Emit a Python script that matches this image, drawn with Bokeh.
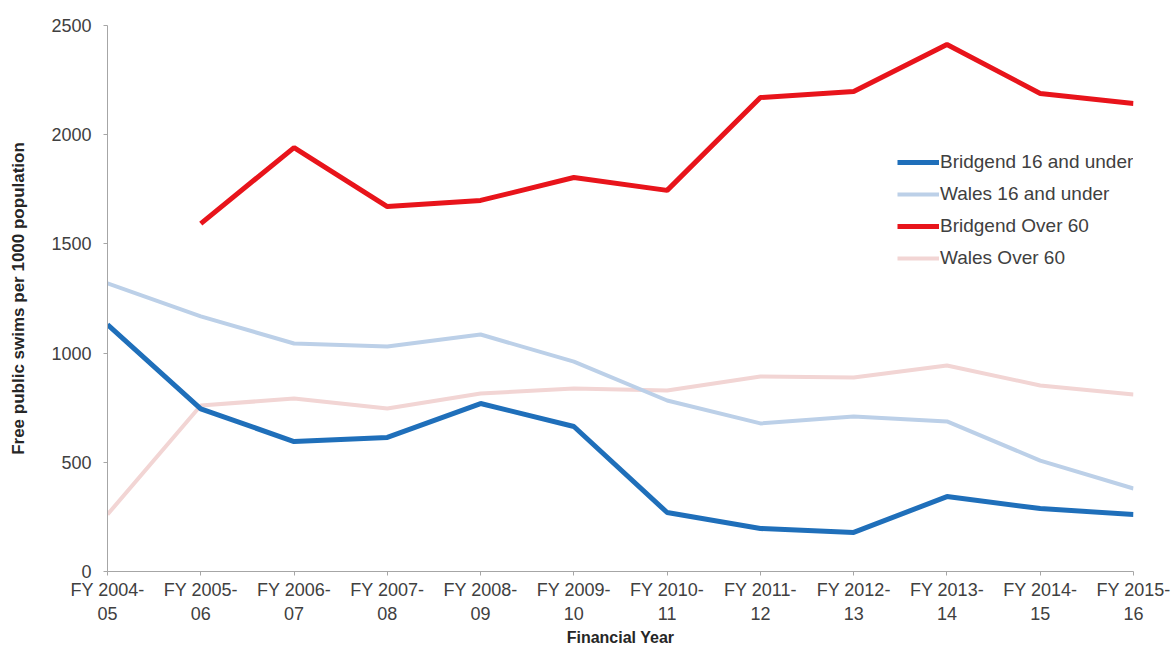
from bokeh.plotting import figure
from bokeh.models import Range1d, FixedTicker, Legend, LegendItem
from bokeh.embed import file_html
from bokeh.resources import INLINE

years = ["FY 2004-\n05", "FY 2005-\n06", "FY 2006-\n07", "FY 2007-\n08", "FY 2008-\n09",
         "FY 2009-\n10", "FY 2010-\n11", "FY 2011-\n12", "FY 2012-\n13", "FY 2013-\n14",
         "FY 2014-\n15", "FY 2015-\n16"]
bridgend_16 = [1130, 745, 595, 614, 769, 664, 270, 197, 179, 343, 288, 261]
wales_16 = [1319, 1168, 1044, 1030, 1085, 961, 783, 678, 710, 687, 508, 380]
bridgend_60 = [None, 1593, 1941, 1671, 1699, 1804, 1745, 2170, 2198, 2413, 2189, 2143]
wales_60 = [261, 760, 792, 746, 815, 838, 829, 893, 888, 943, 852, 810]
y_ticks = [0, 500, 1000, 1500, 2000, 2500]

FONT = "Liberation Sans"
xs = list(range(len(years)))

p = figure(width=1175, height=648, output_backend="svg", toolbar_location=None,
           x_range=Range1d(0, len(years) - 1), y_range=Range1d(0, 2500),
           min_border_left=107, min_border_right=42, min_border_top=25, min_border_bottom=77)
p.outline_line_color = None
p.grid.grid_line_color = None
p.background_fill_color = "white"

def xy(vals):
    px, py = [], []
    for i, v in zip(xs, vals):
        if v is not None:
            px.append(i)
            py.append(v)
    return px, py

x1, y1 = xy(wales_60)
r_w60 = p.line(x1, y1, line_color="#F2D5D4", line_width=4)
x2, y2 = xy(wales_16)
r_w16 = p.line(x2, y2, line_color="#BCD0E8", line_width=4)
x3, y3 = xy(bridgend_60)
r_b60 = p.line(x3, y3, line_color="#E8141B", line_width=5)
x4, y4 = xy(bridgend_16)
r_b16 = p.line(x4, y4, line_color="#1F6FBA", line_width=5)

p.xaxis.ticker = FixedTicker(ticks=xs)
p.xaxis.major_label_overrides = {i: s for i, s in zip(xs, years)}
p.yaxis.ticker = FixedTicker(ticks=y_ticks)

for ax in (p.xaxis[0], p.yaxis[0]):
    ax.axis_line_color = "#A6A6A6"
    ax.major_tick_line_color = "#A6A6A6"
    ax.minor_tick_line_color = None
    ax.major_tick_out = 4
    ax.major_tick_in = 0
    ax.major_label_text_font = FONT
    ax.major_label_text_font_size = "18px"
    ax.major_label_text_color = "#404040"
    ax.axis_label_text_font = FONT
    ax.axis_label_text_font_style = "bold"
    ax.axis_label_text_color = "#262626"

p.xaxis.axis_label = "Financial Year"
p.xaxis.axis_label_text_font_size = "16px"
p.xaxis.major_label_standoff = 4
p.xaxis.axis_label_standoff = 2
p.yaxis.axis_label = "Free public swims per 1000 population"
p.yaxis.axis_label_text_font_size = "17px"
p.yaxis.major_label_standoff = 12
p.yaxis.axis_label_standoff = 20

legend = Legend(items=[
    LegendItem(label="Bridgend 16 and under", renderers=[r_b16]),
    LegendItem(label="Wales 16 and under", renderers=[r_w16]),
    LegendItem(label="Bridgend Over 60", renderers=[r_b60]),
    LegendItem(label="Wales Over 60", renderers=[r_w60]),
], location=(790, 302), orientation="vertical")
legend.border_line_color = None
legend.background_fill_alpha = 0
legend.label_text_font = FONT
legend.label_text_font_size = "19px"
legend.label_text_color = "#404040"
legend.glyph_width = 42
legend.glyph_height = 20
legend.spacing = 10
legend.label_standoff = 1
legend.padding = 0
legend.margin = 0
p.add_layout(legend, "center")

open("out.html", "w").write(file_html(p, INLINE))
